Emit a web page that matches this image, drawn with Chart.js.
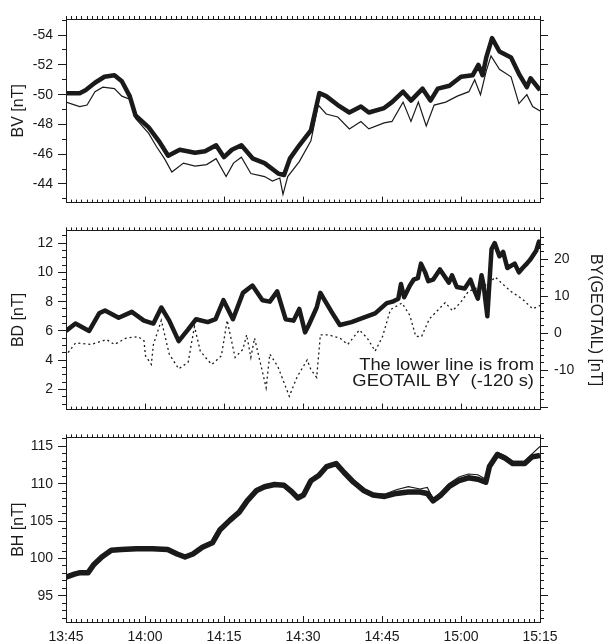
<!DOCTYPE html>
<html>
<head>
<meta charset="utf-8">
<script src="https://cdn.jsdelivr.net/npm/chart.js@4.4.1/dist/chart.umd.min.js"></script>
<style>
  html, body { margin: 0; padding: 0; background: #fff; }
  #wrap { position: relative; width: 607px; height: 642px; }
  canvas { position: absolute; left: 0; }
</style>
</head>
<body>
<div id="wrap">
  <canvas id="bv" width="607" height="216" style="top:0"></canvas>
  <canvas id="bd" width="607" height="208" style="top:216px"></canvas>
  <canvas id="bh" width="607" height="218" style="top:424px"></canvas>
</div>
<script>
// time is in minutes after 13:45
var bvThickT = [0,2.6,3.7,5.5,7.3,9.2,10.6,12.1,13.2,15.7,17.6,19.4,21.6,24.5,26.4,28.5,30,31.5,33.3,35.5,37.7,40.3,41.4,42.5,44.3,46.5,48.1,49.4,51.6,53.8,56,57.5,60.4,61.9,64,65.5,67.7,69.2,70.6,72.8,75,77.2,78.3,79.1,79.8,80.9,82.3,84.5,86,87.5,88.2,90];
var bvThick = [-50.1,-50.1,-50.3,-50.8,-51.2,-51.3,-50.9,-49.9,-48.6,-47.8,-46.9,-45.9,-46.3,-46.1,-46.2,-46.6,-45.8,-46.3,-46.6,-45.7,-45.4,-44.7,-44.6,-45.7,-46.6,-47.6,-50.1,-49.9,-49.3,-48.8,-49.2,-48.8,-49.1,-49.5,-50.2,-49.6,-50.4,-49.6,-50.4,-50.6,-51.2,-51.3,-52.0,-51.3,-52.5,-53.8,-52.9,-52.5,-51.4,-50.5,-51.1,-50.3];
var bvThinT = [0,2.6,4,5.5,7,9.2,10.6,12.1,13.2,15.7,17.2,18.7,20.1,22.3,24.5,26.7,28.5,30.4,31.8,33.3,35.1,37.7,39.2,40.6,41.2,42.1,44.3,46.5,47.9,49.4,51.6,53.8,56,57.5,60.4,61.9,64,65.5,66.9,68.4,69.9,72.1,74.3,76.5,77.6,78.7,79.8,80.7,82.3,84.5,86,87.5,88.6,90];
var bvThin = [-49.5,-49.2,-49.3,-50.2,-50.5,-50.4,-49.9,-49.7,-48.4,-47.4,-46.5,-45.7,-44.8,-45.4,-45.2,-45.3,-45.7,-44.5,-45.4,-45.8,-44.7,-44.5,-44.2,-44.4,-43.3,-44.5,-45.5,-46.9,-49.3,-48.7,-48.5,-47.7,-48.2,-47.7,-48.1,-48.2,-49.5,-48.2,-49.5,-47.9,-49.3,-49.5,-49.9,-50.2,-51.0,-50.0,-51.6,-52.6,-51.7,-51.2,-49.4,-50.0,-49.2,-48.9];

var bdT = [0,1.8,4.4,6.3,7.4,10,12.5,14.8,16.6,18.1,19.6,21.4,23.2,24.7,26.9,28.4,29.9,31.7,33.6,35.4,37.3,38.7,40.1,41.7,43.2,44.3,45.4,46.1,47.6,48.3,49.1,50.6,52,54.2,56.5,58.7,60.9,62.0,63.1,63.6,64.2,65.3,66.0,66.8,67.4,68.2,68.8,69.7,71.0,72.7,73.3,74.2,75.7,76.8,77.5,78.2,78.9,79.3,80.0,80.8,81.4,82.3,83.0,83.8,85.2,86.0,86.7,87.5,88.2,89.3,89.8,90];
var bd = [6.0,6.5,6.0,7.2,7.4,6.9,7.3,6.7,6.5,7.6,6.7,5.3,6.1,6.8,6.6,6.8,8.1,6.8,8.6,9.1,8.1,8.0,8.7,6.8,6.7,7.5,5.9,6.4,7.6,8.6,8.1,7.2,6.4,6.6,6.9,7.2,7.9,8.0,8.2,9.2,8.3,9.1,9.5,9.6,10.6,10.0,9.4,9.5,10.2,9.3,9.8,9.0,8.9,9.5,8.8,8.2,9.8,9.1,7.0,11.6,12.0,11.1,11.4,10.3,10.6,10.0,10.3,10.6,10.9,11.5,12.1,11.6];

// GEOTAIL BY shifted by -120 s, right axis
var byT = [0.4,1.8,4.8,7.7,9.2,11.4,13.7,14.8,15.1,16.2,16.6,18.1,19.6,21.4,23.2,24.0,24.4,25.5,26.9,27.7,29.5,30.6,32.1,33.6,34.3,35.1,35.8,38.0,38.7,40.2,42.4,43.9,45.8,46.5,47.6,48.3,49.8,52.0,53.5,55.7,57.2,58.7,60.1,61.6,63.8,65.3,66.4,67.5,69.0,70.5,72.0,73.4,74.9,76.4,78.6,80.1,81.5,83.0,84.5,86.7,88.6,90];
var byGeotail = [-5.2,-2.6,-3.0,-1.7,-3.0,-1.3,-0.9,-2.0,-6.1,-8.4,-3.0,3.5,-5.6,-9.6,-7.8,-1.3,1.8,-4.8,-7.2,-8.4,-6.1,3.5,-6.5,-4.3,-0.4,-6.5,-1.3,-14.7,-5.6,-8.9,-17.0,-11.7,-7.2,-9.8,-11.9,-0.4,-0.4,-1.3,-3.0,0.9,-1.3,-4.8,-0.9,6.4,8.2,4.8,-0.8,-0.9,3.9,6.1,8.3,6.1,8.3,11.3,12.6,13.2,15.2,13.2,11.3,9.2,6.6,7.5];
var byLabels = [-10, 0, 10, 20];

var bhT = [0,1.6,2.7,4.2,5.3,6.8,8.6,10.5,13.4,16.4,19.3,21.1,22.6,24.1,25.9,27.8,29.2,31.1,32.9,34.4,36.2,37.7,39.6,41.4,42.9,44.0,45.1,46.5,48.0,49.5,51.3,52.8,54.6,56.5,58.3,60.5,62.7,65.0,67.2,68.6,69.7,71.2,72.7,74.6,76.4,78.2,79.7,80.4,81.9,83.4,84.8,87.1,88.5,90];
var bhThick = [97.5,97.9,98.1,98.1,99.2,100.2,101.1,101.2,101.3,101.3,101.2,100.6,100.2,100.6,101.5,102.1,103.8,105.1,106.2,107.7,109.1,109.6,109.9,109.8,108.9,108.1,108.5,110.4,111.1,112.3,112.7,111.5,110.2,109.1,108.5,108.3,108.7,108.9,108.9,108.7,107.7,108.5,109.6,110.4,110.8,110.6,110.2,112.3,113.9,113.4,112.7,112.7,113.6,113.8];
var bhThin = [97.6,98.0,98.3,98.2,99.4,100.4,101.2,101.4,101.5,101.4,101.3,100.8,100.3,100.7,101.6,102.3,104.0,105.3,106.4,108.0,109.3,109.8,110.1,109.9,109.1,108.2,108.8,110.6,111.4,112.5,112.9,111.7,110.4,109.3,108.7,108.6,109.2,109.6,109.3,109.5,108.0,108.8,110.0,110.9,111.3,111.2,110.6,112.6,114.2,113.7,113.0,113.0,114.0,115.0];

var noteLines = ['The lower line is from', 'GEOTAIL BY  (-120 s)'];

var ink = '#1a1a1a';
Chart.defaults.font.family = '"Liberation Sans", Arial, sans-serif';
Chart.defaults.color = ink;

function pts(ts, vs) {
  return ts.map(function (t, i) { return { x: t, y: vs[i] }; });
}
function fixW(w) { return function (s) { s.width = w; }; }
function fixH(h) { return function (s) { s.height = h; }; }
function clock(v) {
  var m = 13 * 60 + 45 + v;
  var mm = m % 60;
  return Math.floor(m / 60) + ':' + (mm < 10 ? '0' : '') + mm;
}

function makeScales(o) {
  var s = {
    x: { type: 'linear', position: 'bottom', weight: 1, min: 0, max: 90,
      ticks: { stepSize: 15, display: !!o.showTime, autoSkip: false, maxRotation: 0, padding: 13,
        includeBounds: false, font: { size: 14 }, callback: clock },
      grid: { drawOnChartArea: false, tickLength: -6, color: ink },
      border: { color: ink },
      afterFit: fixH(o.botH) },
    xm: { type: 'linear', position: 'bottom', weight: 0, min: 0, max: 90,
      ticks: { stepSize: 1, display: false, autoSkip: false },
      grid: { drawOnChartArea: false, tickLength: -3, color: ink },
      border: { display: false },
      afterFit: fixH(0) },
    xt: { type: 'linear', position: 'top', min: 0, max: 90,
      ticks: { stepSize: 1, display: false, autoSkip: false },
      grid: { drawOnChartArea: false, tickLength: 3, color: ink },
      border: { color: ink },
      afterFit: fixH(o.topH) },
    y: { type: 'linear', position: 'left', weight: 1, min: o.min, max: o.max, reverse: !!o.reverse,
      ticks: { stepSize: o.major, includeBounds: false, padding: 5, font: { size: 14 } },
      grid: { drawOnChartArea: false, tickLength: 8, color: ink },
      border: { color: ink },
      title: { display: true, text: o.title, font: { size: 16 }, padding: { top: 9, bottom: 0 } },
      afterFit: fixW(66) },
    ym: { type: 'linear', position: 'left', weight: 0, min: o.min, max: o.max, reverse: !!o.reverse,
      ticks: { stepSize: o.minor, display: false, includeBounds: false },
      grid: { drawOnChartArea: false, tickLength: 4, color: ink },
      border: { display: false },
      afterFit: fixW(0) }
  };
  var r = o.right || { min: o.min, max: o.max, major: o.major, minor: o.minor, reverse: o.reverse };
  s.yr = { type: 'linear', position: 'right', weight: 1, min: r.min, max: r.max, reverse: !!r.reverse,
    ticks: { stepSize: r.major, display: !!r.title, includeBounds: false, padding: 6, font: { size: 14 },
      callback: function (v) { return !r.labels || r.labels.indexOf(v) >= 0 ? v : ''; } },
    grid: { drawOnChartArea: false, tickLength: 8, color: ink },
    border: { color: ink },
    title: { display: !!r.title, text: r.title || '', font: { size: 16 }, padding: { top: 2, bottom: 0 } },
    afterFit: fixW(67) };
  s.yrm = { type: 'linear', position: 'right', weight: 0, min: r.min, max: r.max, reverse: !!r.reverse,
    ticks: { stepSize: r.minor, display: false, includeBounds: false },
    grid: { drawOnChartArea: false, tickLength: 4, color: ink },
    border: { display: false },
    afterFit: fixW(0) };
  return s;
}

function thick(data, w) {
  return { data: data, borderColor: ink, borderWidth: w || 4.5, pointRadius: 0, tension: 0,
    borderJoinStyle: 'round', xAxisID: 'x', yAxisID: 'y' };
}
function thin(data) {
  return { data: data, borderColor: ink, borderWidth: 1.2, pointRadius: 0, tension: 0,
    xAxisID: 'x', yAxisID: 'y' };
}

var common = {
  responsive: false,
  animation: false,
  devicePixelRatio: 1,
  layout: { padding: 0 },
  plugins: { legend: { display: false }, tooltip: { enabled: false } }
};
function opts(scales) {
  return Object.assign({}, common, { scales: scales });
}

var notePlugin = {
  id: 'note',
  afterDatasetsDraw: function (chart) {
    var ctx = chart.ctx, a = chart.chartArea;
    ctx.save();
    ctx.font = '16px "Liberation Sans", Arial, sans-serif';
    ctx.fillStyle = ink;
    ctx.textAlign = 'right';
    noteLines.forEach(function (s, i) {
      ctx.save();
      ctx.translate(a.right - 6, a.top + 140 + i * 16);
      ctx.scale(1.15, 1);
      ctx.fillText(s, 0, 0);
      ctx.restore();
    });
    ctx.restore();
  }
};

new Chart(document.getElementById('bv'), {
  type: 'line',
  data: { datasets: [thick(pts(bvThickT, bvThick)), thin(pts(bvThinT, bvThin))] },
  options: opts(makeScales({ min: -55.08, max: -42.75, major: 2, minor: 1, reverse: true,
    title: 'BV [nT]', topH: 19, botH: 2 }))
});

var byLine = { data: pts(byT, byGeotail), borderColor: ink, borderWidth: 1.3, borderDash: [2, 3],
  pointRadius: 0, tension: 0, xAxisID: 'x', yAxisID: 'yr' };
new Chart(document.getElementById('bd'), {
  type: 'line',
  data: { datasets: [thick(pts(bdT, bd)), byLine] },
  options: opts(makeScales({ min: 0.62, max: 12.87, major: 2, minor: 0.5,
    title: 'BD [nT]', topH: 11, botH: 5,
    right: { min: -20.6, max: 27.8, major: 10, minor: 2, title: 'BY(GEOTAIL) [nT]', labels: byLabels } })),
  plugins: [notePlugin]
});

new Chart(document.getElementById('bh'), {
  type: 'line',
  data: { datasets: [thick(pts(bhT, bhThick), 5.5), thin(pts(bhT, bhThin))] },
  options: opts(makeScales({ min: 91.5, max: 116.2, major: 5, minor: 1,
    title: 'BH [nT]', topH: 6, botH: 20, showTime: true }))
});
</script>
</body>
</html>
